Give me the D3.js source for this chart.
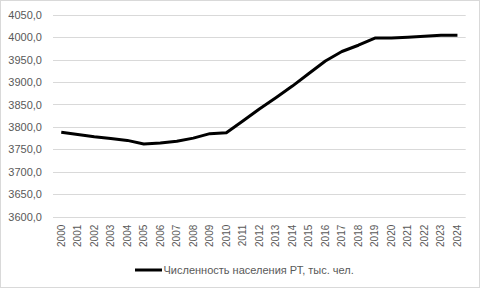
<!DOCTYPE html>
<html><head><meta charset="utf-8">
<script src="https://cdn.jsdelivr.net/npm/d3@7"></script>
<style>body{margin:0;background:#fff}</style>
</head><body>
<svg id="c" width="480" height="288"></svg>
<script>
const years = ["2000","2001","2002","2003","2004","2005","2006","2007","2008","2009","2010","2011","2012","2013","2014","2015","2016","2017","2018","2019","2020","2021","2022","2023","2024"];
const population = [3788,3783,3778,3774,3770,3762,3764,3768,3775,3785,3787,3813,3840,3865,3891,3919,3947,3968,3982,3998,3998,4000,4002,4004,4004];
const yTicks = [3600,3650,3700,3750,3800,3850,3900,3950,4000,4050];
const seriesName = "Численность населения РТ, тыс. чел.";

const svg = d3.select("#c");
const W = 480, H = 288;
const m = {left: 53, right: 14.3, top: 14.7, bottom: 71.3};
const textColor = "#595959";

svg.append("rect").attr("x",0.5).attr("y",0.5).attr("width",W-1).attr("height",H-1)
  .attr("fill","#fff").attr("stroke","#d9d9d9");

const x = d3.scaleBand().domain(years).range([m.left, W - m.right]);
const y = d3.scaleLinear().domain([3600,4050]).range([H - m.bottom, m.top]);

// gridlines
svg.append("g").selectAll("line").data(yTicks).join("line")
  .attr("x1", m.left).attr("x2", W - m.right)
  .attr("y1", d => Math.round(y(d)) + 0.5).attr("y2", d => Math.round(y(d)) + 0.5)
  .attr("stroke","#d9d9d9").attr("stroke-width",1);

// y labels
const fmt = d => d3.format(".1f")(d).replace(".", ",");
const yAxis = d3.axisLeft(y).tickValues(yTicks).tickFormat(fmt).tickSize(0).tickPadding(11);
const gy = svg.append("g").attr("transform",`translate(${m.left},0)`).call(yAxis);
gy.select(".domain").remove();
gy.selectAll("text").attr("fill",textColor).style("font-family","'Liberation Sans', Arial, sans-serif").style("font-size","11px");

// x labels
const xAxis = d3.axisBottom(x).tickSize(0).tickPadding(0);
const gx = svg.append("g").attr("transform",`translate(0,${H - m.bottom})`).call(xAxis);
gx.select(".domain").remove();
gx.selectAll("text")
  .attr("fill",textColor)
  .style("font-family","'Liberation Sans', Arial, sans-serif").style("font-size","10px")
  .attr("transform","rotate(-90)")
  .attr("text-anchor","end")
  .attr("x",-8).attr("y",0).attr("dy","0.35em");

// line
const line = d3.line().x((d,i) => x(years[i]) + x.bandwidth()/2).y(d => y(d));
svg.append("path").datum(population).attr("d", line)
  .attr("fill","none").attr("stroke","#000").attr("stroke-width",3)
  .attr("stroke-linejoin","round").attr("stroke-linecap","butt");

// legend
const lg = svg.append("g").attr("transform","translate(135,270)");
lg.append("line").attr("x1",0).attr("x2",27).attr("y1",0).attr("y2",0)
  .attr("stroke","#000").attr("stroke-width",3);
lg.append("text").attr("x",28.5).attr("y",0).attr("dy","0.35em")
  .attr("fill",textColor).style("font-family","'Liberation Sans', Arial, sans-serif").style("font-size","11px")
  .text(seriesName);
</script>
</body></html>
